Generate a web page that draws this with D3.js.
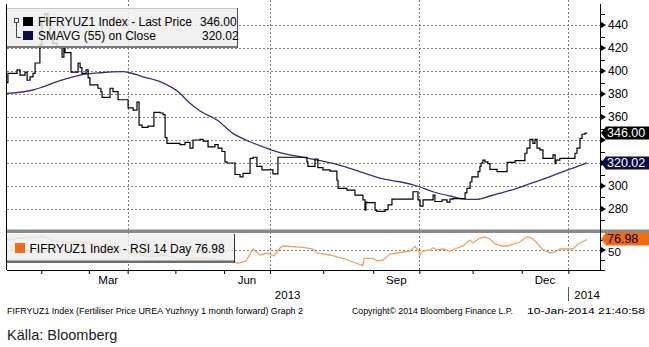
<!DOCTYPE html>
<html><head><meta charset="utf-8">
<script src="https://cdn.jsdelivr.net/npm/d3@7/dist/d3.min.js"></script>
<style>body{margin:0;background:#fff}svg{display:block}text{font-family:"Liberation Sans",Arial,sans-serif}</style>
</head><body>
<svg id="c" width="649" height="347"></svg>
<script>
// ---- data (x = trading session index, 0 = first session shown) ----
const priceSteps = [[0,390],[0.4,398],[4.4,401],[5.7,396.5],[7.9,399],[8.8,392],[10.1,395],[11.4,398],[12.3,407],[14.4,423],[15.3,444],[16.6,450],[17.9,443],[18.8,431],[20.1,424],[21.9,421],[24.1,412],[24.9,420],[25.4,416],[28.0,399],[31.1,407],[32.0,403],[32.8,398],[34.6,401],[35.5,394],[36.3,388],[39.8,385],[41.1,382],[41.6,377],[45.1,385],[46.4,382],[48.6,375],[53.0,368],[55.2,366],[56.9,373],[57.8,353],[59.1,351],[61.7,352],[64.3,364],[67.0,363.5],[68.3,362],[69.2,342],[70.0,337],[74.4,337],[75.7,336],[77.9,338],[80.1,333],[81.4,340],[84.5,340.5],[85.8,339],[88.0,334],[89.7,334],[91.0,336],[92.4,333],[94.1,330],[95.4,321],[96.3,320],[99.8,310],[102.0,308],[103.3,311],[106.4,324],[107.7,325],[109.4,317],[111.6,314],[116.4,310.5],[118.6,325],[131.3,321],[131.7,317],[134.8,323.5],[136.1,316],[138.3,314],[141.4,313],[144.4,305],[144.9,298],[148.8,296.5],[152.3,292],[155.8,288],[156.7,279],[157.1,286],[157.6,285.5],[161.1,279],[161.9,278],[165.5,279.5],[166.8,283.5],[168.5,288.5],[177.7,295],[179.9,288],[180.8,282.5],[182.1,288],[186.5,292],[187.3,286.5],[190.4,288],[192.6,286],[193.9,288.5],[195.2,289],[200.5,294],[201.3,298],[202.7,303.5],[203.5,308],[206.2,312.5],[207.0,317],[207.5,320],[208.3,322.5],[209.2,321],[210.5,319.5],[211.4,314.5],[214.5,312.5],[218.9,320.5],[222.4,322],[226.7,328.5],[227.6,333],[228.9,340.5],[230.2,337],[231.1,340.5],[232.0,333],[233.3,331.5],[234.6,324],[239.0,327],[239.9,319.5],[240.3,322.5],[242.0,324],[248.6,328.5],[249.5,333],[250.8,341.5],[251.7,345],[253.0,346],[253.9,346]];
const smaPoints = [[0,380.6],[11.4,383.5],[15.8,386.3],[23.2,391.7],[32.0,396.5],[40.7,398.5],[50.8,399.4],[53.8,398.5],[59.5,395.0],[67.0,390.7],[75.7,380.6],[80.1,371.9],[84.5,365.3],[91.9,357.4],[98.9,345.8],[106.4,338.5],[113.8,332.8],[120.8,328.4],[128.2,325.5],[135.7,322.6],[142.7,319.7],[150.1,315.4],[157.6,310.4],[164.6,306.1],[172.0,303.7],[179.5,300.0],[186.5,295.0],[193.9,291.3],[201.3,288.4],[205.7,288.4],[211.4,291.3],[215.8,293.7],[223.2,298.0],[230.2,302.9],[237.7,308.1],[245.1,313.9],[249.5,316.8],[253.9,320.02]];
const rsiPoints = [[0,75.6],[5.7,80.8],[15.8,84.6],[21.0,73.1],[27.6,67.9],[34.1,70.5],[40.7,60.3],[47.3,55.1],[53.8,44.9],[62.6,32.1],[69.2,37.2],[75.7,26.9],[84.5,29.5],[93.2,24.4],[99.8,19.2],[101.1,15.9],[104.6,21.8],[107.7,52.6],[110.7,37.2],[113.8,42.3],[116.9,34.6],[119.5,55.1],[120.8,60.3],[129.6,56.9],[133.9,52.6],[135.7,42.3],[141.4,37.2],[147.9,26.9],[155.8,9.7],[156.3,28.7],[160.2,28.7],[162.0,21.8],[164.6,24.4],[167.6,39.7],[170.7,42.3],[176.4,47.4],[178.6,59.5],[179.9,50.0],[180.8,37.2],[182.1,47.4],[185.1,50.0],[186.5,55.9],[188.2,50.0],[190.8,52.6],[193.9,47.4],[197.0,55.1],[199.6,60.3],[202.7,75.6],[204.0,67.9],[207.0,80.8],[209.2,83.3],[211.4,78.2],[213.6,65.4],[216.7,60.3],[218.9,60.3],[224.5,70.5],[227.6,84.1],[229.8,80.0],[232.0,67.9],[234.2,52.6],[237.7,42.3],[239.9,44.9],[242.0,52.6],[247.7,52.6],[249.9,65.4],[253.9,76.98]];
const monthStarts = [15,35.8,52.8,73.7,95,115.1,138.4,160.3,180.5,203.8,225.3,245.7];
const monthNames = ["Feb","Mar","Apr","May","Jun","Jul","Aug","Sep","Oct","Nov","Dec","Jan"];
const labelledMonths = ["Mar","Jun","Sep","Dec"];
const gridMonths = ["Apr","Jul","Oct","Jan"];
const yearLabels = ["2013","2014"];
const priceTicks = [280,300,320,340,360,380,400,420,440];
const priceMinorTicks = [270,290,310,330,350,370,390,410,430,450];
const rsiTicks = [50];
const rsiMinorTicks = [0,25,75];
const lastPrice = 346.00, lastSma = 320.02, lastRsi = 76.98;
const legendPrice = "FIFRYUZ1 Index - Last Price", legendSma = "SMAVG (55) on Close", legendRsi = "FIFRYUZ1 Index - RSI 14 Day";
const footerLeft = "FIFRYUZ1 Index (Fertiliser Price UREA Yuzhnyy 1 month forward) Graph 2";
const footerMid = "Copyright\u00A9 2014 Bloomberg Finance L.P.";
const footerRight = "10-Jan-2014 21:40:58";
const sourceNote = "Källa: Bloomberg";

// ---- layout ----
const L=7, R=601, T=4, PB=229, RT=233, RB=270;
const svg = d3.select("#c");
const x = d3.scaleLinear().domain([0,260]).range([L,R]);
const yP = d3.scaleLinear().domain([262.6,458.3]).range([PB,T]);
const yR = d3.scaleLinear().domain([0,100]).range([269.5,230.5]);
const px = v => Math.round(v)+0.5;
const GRID = "#7f7f7f";
const TAG_H = 13;

const defs = svg.append("defs");
defs.append("clipPath").attr("id","cp").append("rect").attr("x",L).attr("y",T).attr("width",R-L).attr("height",PB-T);
defs.append("clipPath").attr("id","cr").append("rect").attr("x",L).attr("y",RT).attr("width",R-L).attr("height",RB-RT);

// grid
const grid = svg.append("g").attr("stroke",GRID).attr("stroke-dasharray","2,2").attr("stroke-width",1);
grid.selectAll(".h").data(priceTicks).join("line").attr("x1",L).attr("x2",R).attr("y1",d=>px(yP(d))).attr("y2",d=>px(yP(d)));
grid.selectAll(".r").data(rsiTicks).join("line").attr("x1",L).attr("x2",R).attr("y1",d=>px(yR(d))).attr("y2",d=>px(yR(d)));
const gridX = monthStarts.filter((d,i)=>gridMonths.includes(monthNames[i]));
grid.selectAll(".v").data(gridX).join("line").attr("x1",d=>px(x(d))).attr("x2",d=>px(x(d))).attr("y1",0).attr("y2",RB);

// series
const priceLine = d3.line().x(d=>x(d[0])).y(d=>yP(d[1])).curve(d3.curveStepAfter);
const smaLine = d3.line().x(d=>x(d[0])).y(d=>yP(d[1])).curve(d3.curveMonotoneX);
const rsiLine = d3.line().x(d=>x(d[0])).y(d=>yR(d[1])).curve(d3.curveLinear);
svg.append("path").attr("clip-path","url(#cp)").attr("d",smaLine(smaPoints)).attr("fill","none").attr("stroke","#33336e").attr("stroke-width",1.3);
svg.append("path").attr("clip-path","url(#cp)").attr("d",priceLine(priceSteps)).attr("fill","none").attr("stroke","#000").attr("stroke-width",1.2);
svg.append("path").attr("clip-path","url(#cr)").attr("d",rsiLine(rsiPoints)).attr("fill","none").attr("stroke","#f4a062").attr("stroke-width",1.3);

// separator bar between panels
svg.append("rect").attr("x",L).attr("y",229.5).attr("width",649-L).attr("height",3.5).attr("fill","#8a8a8a");

// legends
const lg = svg.append("g");
lg.append("rect").attr("x",L).attr("y",8).attr("width",231).attr("height",38).attr("fill","#eeeeee").attr("opacity",0.82);
lg.append("rect").attr("x",L).attr("y",46).attr("width",231).attr("height",2).attr("fill","#7a7a7a");
lg.append("line").attr("x1",L).attr("x2",238).attr("y1",8.5).attr("y2",8.5).attr("stroke","#c8c8c8");
lg.append("line").attr("x1",237.5).attr("x2",237.5).attr("y1",8).attr("y2",48).attr("stroke","#555");
lg.append("rect").attr("x",14.5).attr("y",18.5).attr("width",4).attr("height",4).attr("fill","none").attr("stroke","#444");
lg.append("path").attr("d","M16.5,23V37.5H21").attr("fill","none").attr("stroke","#444");
lg.append("rect").attr("x",23).attr("y",17).attr("width",10).attr("height",9).attr("fill","#000");
lg.append("rect").attr("x",23).attr("y",31).attr("width",10).attr("height",9).attr("fill","#0b0b45");
const lt = lg.append("g").attr("font-size",12).attr("fill","#000");
lt.append("text").attr("x",38).attr("y",26).text(legendPrice);
lt.append("text").attr("x",200).attr("y",26).text(lastPrice.toFixed(2));
lt.append("text").attr("x",38).attr("y",39.5).text(legendSma);
lt.append("text").attr("x",202).attr("y",39.5).text(lastSma.toFixed(2));

const rg = svg.append("g");
rg.append("rect").attr("x",L).attr("y",234).attr("width",228).attr("height",27).attr("fill","#eeeeee").attr("opacity",0.82);
rg.append("rect").attr("x",L).attr("y",260.5).attr("width",228).attr("height",2.5).attr("fill","#6e6e6e");
rg.append("line").attr("x1",234.5).attr("x2",234.5).attr("y1",234).attr("y2",263).attr("stroke","#333");
rg.append("rect").attr("x",15).attr("y",243).attr("width",10).attr("height",10).attr("fill","#f26a12");
rg.append("text").attr("x",29.5).attr("y",253).attr("font-size",12).text(legendRsi+" "+lastRsi.toFixed(2));

// frame / axes
const ax = svg.append("g").attr("stroke","#000").attr("stroke-width",1);
ax.append("line").attr("x1",px(L)-1).attr("x2",px(L)-1).attr("y1",T).attr("y2",RB);
ax.append("line").attr("x1",px(R)-1).attr("x2",px(R)-1).attr("y1",T).attr("y2",RB);

const xAxis = svg.append("g").attr("transform",`translate(0,${RB})`)
  .call(d3.axisBottom(x).tickValues(monthStarts).tickSize(4).tickSizeOuter(0).tickFormat(""));
xAxis.select(".domain").attr("d",`M${L},0.5H${R}`).attr("stroke","#000");
xAxis.selectAll(".tick line").attr("stroke","#000");

// month labels centred on their month span
const ml = svg.append("g").attr("font-size",11.5).attr("text-anchor","middle").attr("fill","#000");
monthNames.forEach((m,i)=>{
  if(labelledMonths.includes(m) && i+1<monthStarts.length){
    ml.append("text").attr("x",x((monthStarts[i]+monthStarts[i+1])/2)).attr("y",284).text(m);
  }
});
const yearStart = monthStarts[monthStarts.length-1];
ml.append("text").attr("x",x(yearStart/2)).attr("y",299).text(yearLabels[0]);
ml.append("text").attr("x",x(yearStart)+6).attr("y",299).attr("text-anchor","start").text(yearLabels[1]);
svg.append("line").attr("x1",px(x(yearStart))).attr("x2",px(x(yearStart))).attr("y1",287).attr("y2",301).attr("stroke","#555");

// right axes (labels hidden where a last-value tag covers them, as in the original)
const tagYs = [yP(lastPrice), yP(lastSma)];
const covered = v => tagYs.some(t => Math.abs(yP(v)-t) < TAG_H);
const yAx = svg.append("g").attr("transform",`translate(${R},0)`)
  .call(d3.axisRight(yP).tickValues(priceTicks.filter(v=>!covered(v))).tickSize(0).tickPadding(7).tickFormat(d3.format("d")));
yAx.select(".domain").remove();
yAx.selectAll("text").attr("font-size",12).attr("fill","#000").attr("font-family","Liberation Sans, Arial, sans-serif");
const rAx = svg.append("g").attr("transform",`translate(${R},2)`)
  .call(d3.axisRight(yR).tickValues(rsiTicks).tickSize(0).tickPadding(7).tickFormat(d3.format("d")));
rAx.select(".domain").remove();
rAx.selectAll("text").attr("font-size",11.5).attr("fill","#000").attr("font-family","Liberation Sans, Arial, sans-serif");
const tri = svg.append("g").attr("fill","#000");
priceTicks.forEach(v=>{const y=yP(v); tri.append("path").attr("d",`M${R},${y-3}L${R+5},${y}L${R},${y+3}Z`);});
rsiTicks.forEach(v=>{const y=yR(v); tri.append("path").attr("d",`M${R},${y-3}L${R+5},${y}L${R},${y+3}Z`);});
const mt = svg.append("g").attr("stroke","#000");
priceMinorTicks.forEach(v=>{const y=px(yP(v)); mt.append("line").attr("x1",R).attr("x2",R+4).attr("y1",y).attr("y2",y);});
rsiMinorTicks.forEach(v=>{const y=px(yR(v)); mt.append("line").attr("x1",R).attr("x2",R+4).attr("y1",y).attr("y2",y);});

// last value tags
function tag(yc, fill, color, label){
  const g = svg.append("g");
  const h = TAG_H/2;
  g.append("path").attr("d",`M${R},${yc}L${R+5},${yc-h}H649V${yc+h}H${R+5}Z`).attr("fill",fill);
  g.append("text").attr("x",R+6).attr("y",yc+4.3).attr("font-size",12.5).attr("fill",color).text(label);
}
tag(yP(lastPrice),"#000","#fff",lastPrice.toFixed(2));
tag(yP(lastSma),"#0b0b45","#fff",lastSma.toFixed(2));
tag(yR(lastRsi)-0.5,"#f26a12","#000",lastRsi.toFixed(2));

// footer
const ft = svg.append("g").attr("font-size",8.5).attr("fill","#000");
ft.append("text").attr("x",7).attr("y",314).attr("textLength",296).attr("lengthAdjust","spacingAndGlyphs").text(footerLeft);
ft.append("text").attr("x",352).attr("y",314).attr("textLength",161).attr("lengthAdjust","spacingAndGlyphs").text(footerMid);
ft.append("text").attr("x",527).attr("y",314).attr("textLength",118).attr("lengthAdjust","spacingAndGlyphs").text(footerRight);
svg.append("text").attr("x",7).attr("y",340).attr("font-size",14.5).attr("fill","#222").text(sourceNote);
</script>
</body></html>
